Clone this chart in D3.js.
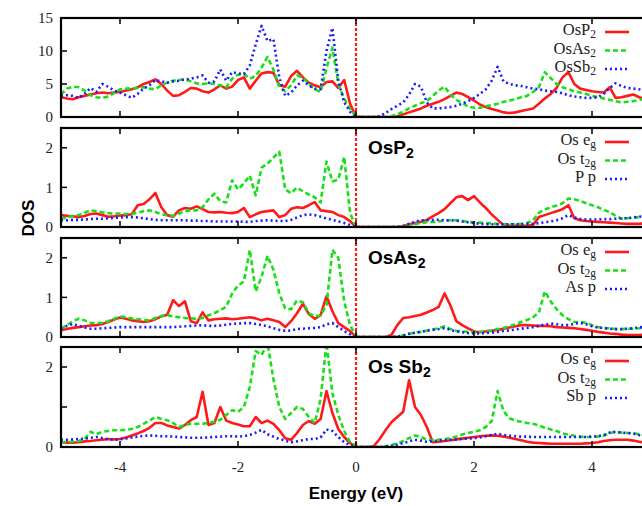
<!DOCTYPE html>
<head>
  <meta charset="utf-8">
  <script src="https://d3js.org/d3.v7.min.js"></script>
  <style>
body { margin: 0; background: #fff; }
.tick-label { font-family: "Liberation Serif", "Times New Roman", "DejaVu Serif", serif; font-size: 15px; fill: #222; }
.legend { font-family: "Liberation Serif", "Times New Roman", "DejaVu Serif", serif; font-size: 16.5px; fill: #222; }
.panel-name { font-family: "Liberation Sans", Arial, sans-serif; font-size: 19px; font-weight: bold; fill: #000; }
.axis-title { font-family: "Liberation Sans", Arial, sans-serif; font-size: 17px; font-weight: bold; fill: #000; }
  </style>
</head>

<body>
  <script>
    // energy grid (eV), one value every 0.1 eV
    var energy = d3.range(-50, 51).map(i => i / 10);

    // panel 1: total DOS
    var totOsP2 = [3.0,2.8,2.7,3.0,3.2,3.4,3.6,3.7,3.6,3.7, 3.8,4.0,4.2,4.5,5.0,5.3,5.7,5.0,4.0,3.2,
      3.3,3.8,4.4,4.3,3.9,3.7,4.2,4.8,4.3,4.6, 5.6,6.0,4.3,5.5,6.6,6.8,6.7,4.8,4.6,6.2,
      7.0,6.0,5.2,4.8,4.5,5.3,5.4,4.4,5.6,2.0, 0,
      0,0,0,0,0,0,0.1,0.4,0.7,1.0, 1.3,1.7,2.0,2.3,2.7,3.2,3.7,3.5,3.0,2.5,
      1.9,1.5,1.2,1.0,0.7,0.6,0.7,0.9,1.1,1.3, 2.0,2.8,3.5,4.4,6.0,6.8,5.0,4.3,4.1,3.9,
      3.8,3.7,4.5,2.9,3.0,3.2,3.4,3.0,2.7,2.6];
    var totOsAs2 = [3.4,4.3,4.6,4.5,4.0,3.3,3.0,2.9,3.1,3.6, 4.2,4.3,4.3,4.4,4.5,4.3,4.2,4.8,5.2,5.5,
      5.6,5.7,5.4,5.1,5.0,5.1,5.0,4.8,4.5,5.8, 6.4,6.5,5.8,6.2,7.5,9.1,7.2,4.5,3.9,4.8,
      6.3,6.0,5.0,4.2,3.8,7.4,10.5,5.0,2.8,1.2, 0.1,
      0,0,0,0,0,0.1,0.4,0.8,1.3,1.7, 2.1,2.4,3.2,4.0,4.6,3.4,2.6,2.1,1.6,1.4,
      1.4,1.6,1.8,2.0,2.3,2.5,2.7,3.0,3.2,3.8, 4.5,6.8,5.9,5.0,4.5,4.2,3.9,3.7,3.5,3.2,
      3.0,2.8,2.6,2.4,2.2,2.3,2.4,2.6,2.8,2.9];
    var totOsSb2 = [3.2,3.3,3.2,2.9,3.5,4.4,3.8,5.0,4.6,4.0, 3.7,3.3,2.9,3.5,4.3,4.8,5.6,5.4,5.2,5.4,
      5.5,5.7,5.8,6.0,6.3,5.2,5.4,7.2,5.5,6.8, 6.6,6.5,7.8,11.0,13.8,11.5,11.8,6.0,3.2,3.7,
      4.8,5.5,4.8,4.3,4.2,10.0,13.5,5.5,2.2,0.8, 0,
      0,0,0,0.1,0.6,1.2,1.7,2.2,3.4,5.0, 4.6,2.2,1.3,1.3,1.4,1.5,1.7,2.0,2.4,2.9,
      3.5,4.2,5.5,7.6,5.4,5.0,4.8,4.7,4.5,4.3, 4.2,4.0,3.9,3.8,3.6,3.3,3.1,3.0,2.9,2.9,
      3.0,3.5,4.4,5.1,4.7,4.4,4.3,4.2,3.5,3.0];

    // panel 2: OsP2 projected
    var egOsP2 = [0.30,0.28,0.27,0.25,0.28,0.33,0.34,0.30,0.26,0.27, 0.29,0.30,0.32,0.55,0.58,0.70,0.86,0.50,0.30,0.26,
      0.42,0.48,0.46,0.52,0.45,0.38,0.37,0.38,0.36,0.35, 0.38,0.48,0.25,0.32,0.38,0.40,0.42,0.25,0.30,0.46,
      0.50,0.48,0.55,0.63,0.42,0.40,0.38,0.30,0.25,0.15, 0,
      0,0,0,0,0,0,0,0.02,0.07,0.10, 0.13,0.18,0.27,0.35,0.45,0.60,0.75,0.78,0.68,0.78,
      0.62,0.48,0.32,0.18,0.05,0.03,0.03,0.03,0.03,0.05, 0.25,0.30,0.35,0.40,0.45,0.55,0.22,0.17,0.15,0.14,
      0.13,0.12,0.11,0.10,0.09,0.08,0.08,0.08,0.09,0.09];
    var t2gOsP2 = [0.21,0.24,0.28,0.30,0.36,0.42,0.40,0.37,0.35,0.34, 0.34,0.33,0.33,0.36,0.40,0.42,0.38,0.32,0.30,0.28,
      0.34,0.40,0.42,0.42,0.50,0.70,0.84,0.65,0.62,1.18, 0.95,1.10,1.30,0.80,1.50,1.60,1.75,1.90,0.95,0.85,
      1.00,0.90,0.82,0.75,0.62,1.65,1.15,1.20,1.77,0.35, 0,
      0,0,0,0,0,0,0,0.01,0.04,0.07, 0.10,0.12,0.13,0.14,0.16,0.17,0.17,0.15,0.13,0.12,
      0.11,0.10,0.09,0.08,0.07,0.07,0.07,0.08,0.10,0.17, 0.36,0.44,0.50,0.54,0.60,0.72,0.70,0.66,0.60,0.55,
      0.50,0.43,0.38,0.28,0.21,0.22,0.24,0.25,0.28,0.30];
    var pOsP2 = [0.17,0.17,0.18,0.18,0.19,0.20,0.21,0.21,0.22,0.23, 0.24,0.25,0.25,0.24,0.22,0.20,0.18,0.17,0.17,0.17,
      0.17,0.17,0.16,0.16,0.15,0.15,0.14,0.14,0.14,0.14, 0.14,0.13,0.13,0.15,0.16,0.17,0.16,0.15,0.15,0.18,
      0.24,0.30,0.32,0.30,0.26,0.22,0.18,0.14,0.10,0.05, 0,
      0,0,0,0,0,0,0,0.03,0.08,0.13, 0.17,0.17,0.18,0.18,0.17,0.17,0.16,0.14,0.12,0.10,
      0.08,0.07,0.07,0.07,0.07,0.07,0.07,0.07,0.08,0.08, 0.10,0.12,0.14,0.17,0.22,0.30,0.24,0.20,0.19,0.19,
      0.19,0.20,0.20,0.21,0.22,0.22,0.24,0.26,0.28,0.30];

    // panel 3: OsAs2 projected
    var egOsAs2 = [0.17,0.20,0.23,0.25,0.27,0.29,0.30,0.33,0.38,0.44, 0.49,0.46,0.42,0.40,0.38,0.40,0.45,0.52,0.56,0.93,
      0.78,0.90,0.40,0.35,0.62,0.42,0.45,0.46,0.47,0.45, 0.46,0.48,0.50,0.47,0.42,0.46,0.42,0.38,0.25,0.40,
      0.60,0.84,0.58,0.46,0.55,1.03,0.65,0.35,0.25,0.15, 0,
      0,0,0,0,0,0.05,0.30,0.48,0.50,0.53, 0.56,0.62,0.68,0.76,1.10,0.80,0.40,0.30,0.22,0.14,
      0.12,0.14,0.16,0.18,0.21,0.24,0.27,0.30,0.30,0.29, 0.28,0.28,0.27,0.25,0.24,0.23,0.22,0.20,0.18,0.16,
      0.13,0.11,0.09,0.08,0.06,0.05,0.05,0.05,0.06,0.07];
    var t2gOsAs2 = [0.21,0.30,0.40,0.46,0.42,0.36,0.35,0.36,0.40,0.46, 0.52,0.50,0.47,0.45,0.43,0.42,0.48,0.53,0.55,0.52,
      0.50,0.48,0.47,0.46,0.48,0.55,0.60,0.68,0.76,1.10, 1.30,1.40,2.20,1.15,1.52,2.05,1.70,1.10,0.72,0.70,
      0.92,0.88,0.60,0.52,0.55,0.80,2.20,2.00,0.90,0.30, 0.02,
      0,0,0,0,0,0,0.01,0.04,0.08,0.11, 0.13,0.16,0.19,0.22,0.27,0.20,0.16,0.14,0.13,0.12,
      0.13,0.15,0.17,0.20,0.23,0.27,0.32,0.38,0.43,0.50, 0.62,1.15,0.90,0.70,0.55,0.45,0.38,0.38,0.36,0.30,
      0.25,0.23,0.22,0.20,0.20,0.21,0.21,0.22,0.24,0.26];
    var pOsAs2 = [0.21,0.28,0.33,0.28,0.24,0.21,0.21,0.22,0.23,0.24, 0.25,0.25,0.25,0.25,0.25,0.25,0.25,0.25,0.25,0.25,
      0.26,0.27,0.28,0.29,0.30,0.28,0.28,0.29,0.31,0.33, 0.34,0.35,0.35,0.33,0.30,0.27,0.22,0.18,0.16,0.16,
      0.20,0.21,0.22,0.23,0.25,0.32,0.35,0.25,0.15,0.07, 0,
      0,0,0,0,0,0,0.01,0.04,0.08,0.11, 0.13,0.16,0.18,0.20,0.22,0.18,0.14,0.12,0.10,0.09,
      0.09,0.10,0.11,0.13,0.15,0.17,0.19,0.21,0.23,0.25, 0.28,0.31,0.34,0.32,0.30,0.30,0.33,0.36,0.32,0.27,
      0.24,0.22,0.21,0.20,0.20,0.21,0.22,0.24,0.26,0.27];

    // panel 4: OsSb2 projected
    var egOsSb2 = [0.12,0.11,0.11,0.12,0.14,0.15,0.17,0.18,0.20,0.19, 0.20,0.24,0.29,0.34,0.40,0.48,0.60,0.60,0.54,0.50,
      0.46,0.55,0.67,0.75,1.38,0.55,0.60,1.00,0.66,0.60, 0.56,0.52,0.52,0.75,0.60,0.66,0.58,0.42,0.22,0.18,
      0.35,0.55,0.65,0.58,0.70,1.40,0.85,0.45,0.25,0.10, 0,
      0,0,0.02,0.20,0.42,0.62,0.75,0.88,1.67,1.00, 0.80,0.50,0.12,0.13,0.15,0.17,0.19,0.21,0.23,0.25,
      0.27,0.28,0.29,0.28,0.26,0.23,0.20,0.17,0.13,0.11, 0.10,0.09,0.08,0.08,0.08,0.08,0.08,0.08,0.09,0.10,
      0.12,0.15,0.17,0.18,0.18,0.18,0.16,0.13,0.11,0.10];
    var t2gOsSb2 = [0.12,0.12,0.13,0.15,0.20,0.38,0.32,0.38,0.40,0.42, 0.42,0.43,0.45,0.50,0.58,0.66,0.75,0.70,0.67,0.60,
      0.50,0.55,0.58,0.58,0.58,0.60,0.63,0.68,0.80,0.92, 0.88,1.00,1.50,2.40,2.30,2.60,1.70,1.00,0.70,0.85,
      1.00,0.95,0.75,0.60,1.20,2.60,1.35,0.80,0.40,0.12, 0.02,
      0,0,0,0,0.02,0.05,0.09,0.15,0.22,0.29, 0.25,0.18,0.17,0.18,0.20,0.22,0.26,0.31,0.35,0.38,
      0.42,0.50,0.65,1.40,0.90,0.72,0.66,0.63,0.60,0.58, 0.54,0.48,0.44,0.40,0.34,0.31,0.28,0.26,0.25,0.25,
      0.26,0.28,0.35,0.38,0.36,0.35,0.34,0.32,0.28,0.26];
    var pOsSb2 = [0.18,0.18,0.19,0.20,0.21,0.23,0.25,0.22,0.19,0.18, 0.19,0.21,0.24,0.26,0.28,0.29,0.28,0.27,0.27,0.26,
      0.25,0.24,0.23,0.23,0.23,0.24,0.25,0.26,0.27,0.27, 0.26,0.27,0.30,0.36,0.43,0.32,0.26,0.20,0.16,0.12,
      0.14,0.17,0.20,0.20,0.24,0.44,0.40,0.25,0.12,0.05, 0,
      0,0,0,0,0.01,0.03,0.06,0.10,0.14,0.18, 0.16,0.13,0.15,0.16,0.17,0.18,0.19,0.20,0.21,0.22,
      0.24,0.27,0.30,0.33,0.30,0.28,0.27,0.26,0.26,0.25, 0.25,0.25,0.25,0.25,0.25,0.25,0.25,0.25,0.25,0.26,
      0.27,0.30,0.36,0.38,0.36,0.35,0.34,0.30,0.26,0.24];

    var xTicks = [-4, -2, 0, 2, 4];

    // legend entries: [main text, subscript]
    var panels = [
      { top: 18, bottom: 117, ymax: 15, yTicks: [0, 5, 10, 15], yLabels: [0, 5, 10, 15],
        series: [totOsP2, totOsAs2, totOsSb2],
        legend: [["OsP", "2"], ["OsAs", "2"], ["OsSb", "2"]], name: null },
      { top: 128, bottom: 227, ymax: 2.5, yTicks: [0, 1, 2], yLabels: [0, 1, 2],
        series: [egOsP2, t2gOsP2, pOsP2],
        legend: [["Os e", "g"], ["Os t", "2g"], ["P p", ""]], name: ["OsP", "2"] },
      { top: 238, bottom: 337, ymax: 2.5, yTicks: [0, 1, 2], yLabels: [0, 1, 2],
        series: [egOsAs2, t2gOsAs2, pOsAs2],
        legend: [["Os e", "g"], ["Os t", "2g"], ["As p", ""]], name: ["OsAs", "2"] },
      { top: 347, bottom: 447, ymax: 2.5, yTicks: [0, 1, 2], yLabels: [0, 2],
        series: [egOsSb2, t2gOsSb2, pOsSb2],
        legend: [["Os e", "g"], ["Os t", "2g"], ["Sb p", ""]], name: ["Os Sb", "2"] }
    ];

    var styles = [
      { color: "#ff1a1a", dash: null },
      { color: "#18e018", dash: "5,3" },
      { color: "#1a1aff", dash: "2,3" }
    ];

    var svg = d3.select("body").append("svg")
      .attr("width", 642)
      .attr("height", 506);

    var x = d3.scaleLinear().domain([-5, 5]).range([61, 651]);

    panels.forEach(function(p, pi) {
      var y = d3.scaleLinear().domain([0, p.ymax]).range([p.bottom, p.top]);
      var g = svg.append("g");

      svg.append("clipPath").attr("id", "clip" + pi)
        .append("rect")
        .attr("x", x(-5)).attr("y", p.top)
        .attr("width", x(5) - x(-5)).attr("height", p.bottom - p.top);

      var line = d3.line()
        .x((d, i) => x(energy[i]))
        .y(d => y(d));

      var curves = g.append("g").attr("clip-path", "url(#clip" + pi + ")");
      p.series.forEach(function(s, si) {
        curves.append("path")
          .datum(s)
          .attr("d", line)
          .attr("fill", "none")
          .attr("stroke", styles[si].color)
          .attr("stroke-width", 2.6)
          .attr("stroke-linejoin", "round")
          .attr("stroke-dasharray", styles[si].dash);
      });

      // Fermi level
      g.append("line")
        .attr("x1", x(0)).attr("x2", x(0))
        .attr("y1", p.top).attr("y2", p.bottom)
        .attr("stroke", "#ff1a1a")
        .attr("stroke-width", 2.2)
        .attr("stroke-dasharray", "3,2");

      // ticks
      xTicks.forEach(function(t) {
        g.append("line").attr("x1", x(t)).attr("x2", x(t))
          .attr("y1", p.bottom).attr("y2", p.bottom - 6)
          .attr("stroke", "#000").attr("stroke-width", 1.5);
        g.append("line").attr("x1", x(t)).attr("x2", x(t))
          .attr("y1", p.top).attr("y2", p.top + 6)
          .attr("stroke", "#000").attr("stroke-width", 1.5);
      });
      p.yTicks.forEach(function(t) {
        g.append("line").attr("x1", x(-5)).attr("x2", x(-5) + 6)
          .attr("y1", y(t)).attr("y2", y(t))
          .attr("stroke", "#000").attr("stroke-width", 1.5);
      });
      p.yLabels.forEach(function(t) {
        g.append("text").attr("class", "tick-label")
          .attr("x", 53).attr("y", y(t))
          .attr("dy", "0.35em")
          .attr("text-anchor", "end")
          .text(t);
      });

      // frame
      g.append("rect")
        .attr("x", x(-5)).attr("y", p.top)
        .attr("width", x(5) - x(-5)).attr("height", p.bottom - p.top)
        .attr("fill", "none")
        .attr("stroke", "#000")
        .attr("stroke-width", 2.2);

      // legend
      p.legend.forEach(function(entry, li) {
        var ly = p.top + 14 + li * 18.5;
        var t = g.append("text").attr("class", "legend")
          .attr("x", 596).attr("y", ly + 3)
          .attr("text-anchor", "end");
        t.append("tspan").text(entry[0]);
        if (entry[1]) {
          t.append("tspan").attr("dy", 3).attr("font-size", "11.5px").text(entry[1]);
        }
        g.append("line")
          .attr("x1", 605).attr("x2", 629)
          .attr("y1", ly).attr("y2", ly)
          .attr("stroke", styles[li].color)
          .attr("stroke-width", 2.6)
          .attr("stroke-dasharray", styles[li].dash);
      });

      if (p.name) {
        var nt = g.append("text").attr("class", "panel-name")
          .attr("x", 368).attr("y", p.top + 26);
        nt.append("tspan").text(p.name[0]);
        nt.append("tspan").attr("dy", 4).attr("font-size", "14px").text(p.name[1]);
      }
    });

    // x tick labels under the last panel
    xTicks.forEach(function(t) {
      svg.append("text").attr("class", "tick-label")
        .attr("x", x(t)).attr("y", 472)
        .attr("text-anchor", "middle")
        .text(t);
    });

    svg.append("text").attr("class", "axis-title")
      .attr("x", x(0)).attr("y", 499)
      .attr("text-anchor", "middle")
      .text("Energy (eV)");

    svg.append("text").attr("class", "axis-title")
      .attr("transform", "translate(34,218) rotate(-90)")
      .attr("text-anchor", "middle")
      .text("DOS");
  </script>
</body>
